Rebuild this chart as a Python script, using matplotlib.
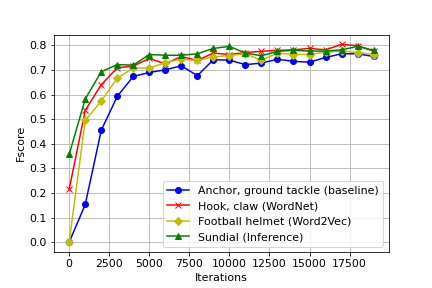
import numpy as np
import matplotlib
matplotlib.use("Agg")
import matplotlib.pyplot as plt

plt.rcParams["font.size"] = 11

iterations = list(range(0, 20000, 1000))

anchor = [0.0, 0.153, 0.455, 0.593, 0.674, 0.69, 0.701, 0.717, 0.677, 0.742,
          0.740, 0.722, 0.728, 0.744, 0.735, 0.732, 0.751, 0.766, 0.766, 0.755]
hook = [0.215, 0.536, 0.640, 0.709, 0.716, 0.747, 0.725, 0.755, 0.739, 0.769,
        0.763, 0.771, 0.776, 0.780, 0.782, 0.788, 0.782, 0.804, 0.799, 0.777]
helmet = [0.0, 0.495, 0.574, 0.667, 0.708, 0.708, 0.730, 0.744, 0.739, 0.753,
          0.759, 0.766, 0.739, 0.769, 0.763, 0.763, 0.773, 0.777, 0.771, 0.763]
sundial = [0.357, 0.582, 0.693, 0.722, 0.720, 0.763, 0.760, 0.760, 0.766, 0.788,
           0.796, 0.769, 0.758, 0.776, 0.780, 0.777, 0.777, 0.782, 0.796, 0.780]

labels = ["Anchor, ground tackle (baseline)", "Hook, claw (WordNet)",
          "Football helmet (Word2Vec)", "Sundial (Inference)"]

fig, ax = plt.subplots(figsize=(6, 4), dpi=72)
fig.subplots_adjust(left=0.125, right=0.9, bottom=0.125, top=0.88)
ax.plot(iterations, anchor, "bo-", label=labels[0])
ax.plot(iterations, hook, "rx-", label=labels[1])
ax.plot(iterations, helmet, "yD-", label=labels[2])
ax.plot(iterations, sundial, "g^-", label=labels[3])
ax.set_xlabel("Iterations")
ax.set_ylabel("Fscore")
ax.grid(True)
ax.legend(loc="lower right")
fig.savefig("out.png", dpi=72)
